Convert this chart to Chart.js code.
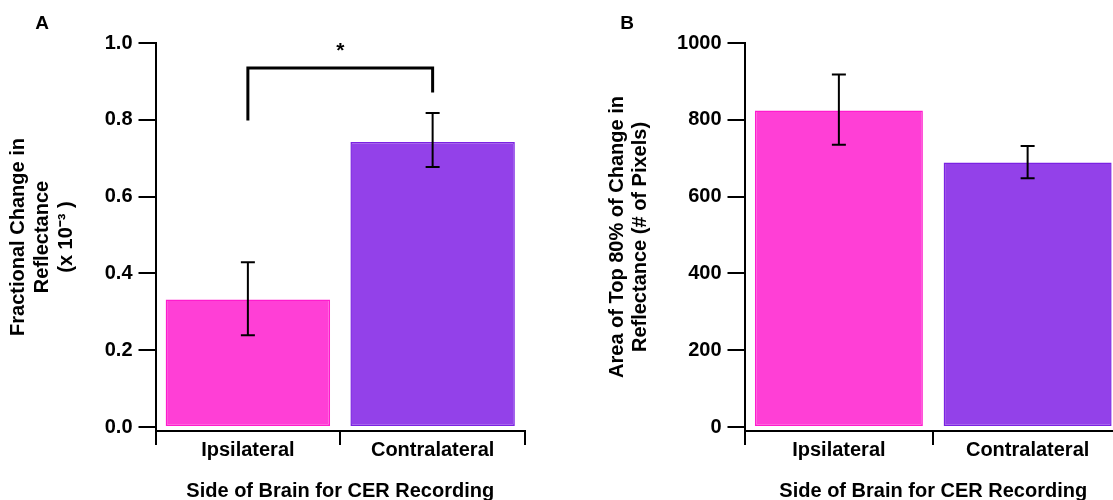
<!DOCTYPE html>
<html>
<head>
<meta charset="utf-8">
<script src="https://cdn.jsdelivr.net/npm/chart.js@4.4.1/dist/chart.umd.min.js"></script>
<style>
  html, body { margin: 0; padding: 0; background: #fff; overflow: hidden; }
  #wrap { position: relative; width: 1113px; height: 500px; overflow: hidden; }
  #boxA { position: absolute; left: 0; top: 0; width: 560px; height: 500px; }
  #boxB { position: absolute; left: 560px; top: 0; width: 600px; height: 500px; }
</style>
</head>
<body>
<div id="wrap">
  <div id="boxA"><canvas id="chartA" width="560" height="500"></canvas></div>
  <div id="boxB"><canvas id="chartB" width="600" height="500"></canvas></div>
</div>
<script>
const categories = ['Ipsilateral', 'Contralateral'];

// panel A - fractional change in reflectance (x 10^-3)
const reflectanceMean = [0.332, 0.742];
const reflectanceLow = [0.239, 0.677];
const reflectanceHigh = [0.429, 0.818];
const reflectanceTicks = [0, 0.2, 0.4, 0.6, 0.8, 1.0];

// panel B - area of top 80% of change (# of pixels)
const areaMean = [824, 689];
const areaLow = [735, 648];
const areaHigh = [918, 732];
const areaTicks = [0, 200, 400, 600, 800, 1000];

// significance bracket on panel A: bracket top, end of each leg
const bracketTop = 0.935;
const bracketLegs = [0.798, 0.871];

const barFill = ['#ff3fd6', '#9341e9'];
const barEdge = ['#ff1ccd', '#7b22e2'];

Chart.defaults.font.family = '"Liberation Sans", Arial, sans-serif';
Chart.defaults.color = '#000';

const boldFont = { size: 20, weight: 'bold', lineHeight: 1.2 };

// error bars, bracket and panel letter
const extras = {
    id: 'extras',
    afterDatasetsDraw(chart, args, opts) {
        const ctx = chart.ctx;
        const x = chart.scales.x, y = chart.scales.y;
        ctx.save();
        ctx.strokeStyle = '#000';
        ctx.lineWidth = 2;
        opts.low.forEach((lo, i) => {
            const px = x.getPixelForValue(i);
            const y1 = y.getPixelForValue(lo);
            const y2 = y.getPixelForValue(opts.high[i]);
            ctx.beginPath();
            ctx.moveTo(px, y1); ctx.lineTo(px, y2);
            ctx.moveTo(px - 7, y1); ctx.lineTo(px + 7, y1);
            ctx.moveTo(px - 7, y2); ctx.lineTo(px + 7, y2);
            ctx.stroke();
        });

        if (opts.bracket) {
            const x0 = x.getPixelForValue(0), x1 = x.getPixelForValue(1);
            const top = y.getPixelForValue(opts.bracket.top);
            ctx.lineWidth = 3;
            ctx.beginPath();
            ctx.moveTo(x0, y.getPixelForValue(opts.bracket.legs[0]));
            ctx.lineTo(x0, top);
            ctx.lineTo(x1, top);
            ctx.lineTo(x1, y.getPixelForValue(opts.bracket.legs[1]));
            ctx.stroke();
            ctx.fillStyle = '#000';
            ctx.font = 'bold 21px "Liberation Sans", Arial, sans-serif';
            ctx.textAlign = 'center';
            ctx.textBaseline = 'alphabetic';
            ctx.fillText('*', (x0 + x1) / 2, top - 11);
        }

        ctx.fillStyle = '#000';
        ctx.font = 'bold 19px "Liberation Sans", Arial, sans-serif';
        ctx.textAlign = 'center';
        ctx.textBaseline = 'alphabetic';
        ctx.fillText(opts.letter, opts.letterX, 29);
        ctx.restore();
    }
};

function barChart(id, means, low, high, ticks, yMin, fmt, yTitle, s) {
    return new Chart(document.getElementById(id), {
        type: 'bar',
        data: {
            labels: categories,
            datasets: [{
                data: means,
                backgroundColor: barFill,
                borderColor: barEdge,
                borderWidth: 1.5,
                borderSkipped: false,
                categoryPercentage: 1,
                barPercentage: 0.89
            }]
        },
        options: {
            responsive: false,
            animation: false,
            layout: { padding: { top: 43, right: s.padRight, left: 0, bottom: 0 } },
            plugins: {
                legend: { display: false },
                tooltip: { enabled: false },
                extras: { low: low, high: high, letter: s.letter, letterX: s.letterX, bracket: s.bracket }
            },
            scales: {
                x: {
                    afterFit: sc => { sc.height = 69; },
                    border: { display: true, color: '#000', width: 2 },
                    grid: { drawOnChartArea: false, drawTicks: true, tickLength: 14, color: '#000', lineWidth: 2, offset: true },
                    ticks: { color: '#000', font: boldFont, padding: -7 },
                    title: {
                        display: true, text: 'Side of Brain for CER Recording', color: '#000',
                        font: boldFont, padding: { top: 0, bottom: -3 }
                    }
                },
                y: {
                    min: yMin,
                    max: ticks[ticks.length - 1],
                    afterBuildTicks: sc => { sc.ticks = ticks.map(v => ({ value: v })); },
                    afterFit: sc => { sc.width = s.axisWidth; },
                    border: { display: true, color: '#000', width: 2 },
                    grid: { drawOnChartArea: false, drawTicks: true, tickLength: 17, color: '#000', lineWidth: 2 },
                    ticks: { color: '#000', font: boldFont, padding: 6, callback: fmt },
                    title: {
                        display: true, text: yTitle, color: '#000',
                        font: { size: 20, weight: 'bold', lineHeight: s.titleLine },
                        padding: { top: s.titlePad, bottom: 0 }
                    }
                }
            }
        },
        plugins: [extras]
    });
}

barChart('chartA', reflectanceMean, reflectanceLow, reflectanceHigh, reflectanceTicks, -0.0104,
    v => v.toFixed(1),
    ['Fractional Change in', 'Reflectance', '(x 10\u207B\u00B3 )'],
    { padRight: 35, axisWidth: 155.5, titlePad: 7, titleLine: 1.18, letter: 'A', letterX: 42,
      bracket: { top: bracketTop, legs: bracketLegs } });

barChart('chartB', areaMean, areaLow, areaHigh, areaTicks, -10.4,
    v => String(v),
    ['Area of Top 80% of Change in', 'Reflectance (# of Pixels)'],
    { padRight: 38, axisWidth: 184.5, titlePad: 46, titleLine: 1.15, letter: 'B', letterX: 67, bracket: null });
</script>
</body>
</html>
